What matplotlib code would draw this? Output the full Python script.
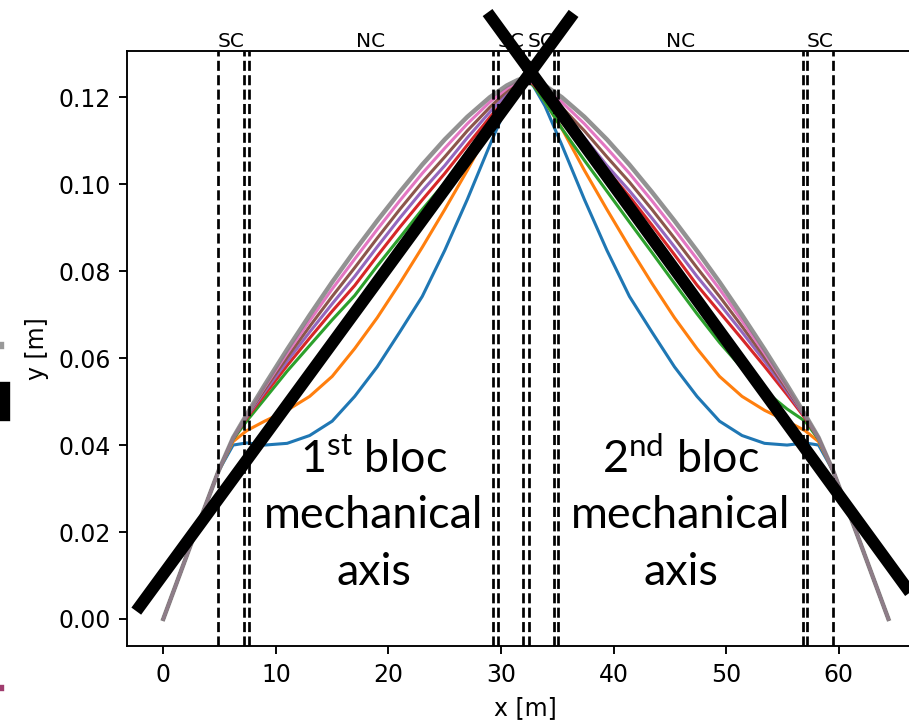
import numpy as np
import matplotlib.pyplot as plt
from matplotlib.patches import Rectangle

DPI = 170

plt.rcParams['mathtext.fontset'] = 'custom'
plt.rcParams['mathtext.rm'] = 'Lato'

# sample positions along the line [m]
x_pos = [0, 2.5, 4.9, 6.2, 7.4, 9, 11, 13, 15, 17, 19, 21, 23, 25, 27, 29, 30.5, 31.5, 32.2,
         32.9, 33.9, 35.4, 37.4, 39.4, 41.4, 43.4, 45.4, 47.4, 49.4, 51.4, 53.4, 55.4, 57.0, 58.2,
         59.5, 61.9, 64.4]

# vertical position for each iteration [m]
y_iter0 = [0, 0.0175, 0.034, 0.0400, 0.0405, 0.0400, 0.0404, 0.0422, 0.0455, 0.0512, 0.0580, 0.0660,
           0.0742, 0.0848, 0.0965, 0.1090, 0.1180, 0.1225, 0.1245,
           0.1225, 0.1180, 0.1090, 0.0965, 0.0848, 0.0742, 0.0660, 0.0580, 0.0512, 0.0455, 0.0422,
           0.0404, 0.0400, 0.0405, 0.0400, 0.034, 0.0175, 0]
y_iter1 = [0, 0.0175, 0.034, 0.0408, 0.0433, 0.0455, 0.0480, 0.0512, 0.0558, 0.0622, 0.0693, 0.0772,
           0.0855, 0.0942, 0.1032, 0.1128, 0.1190, 0.1228, 0.1245,
           0.1228, 0.1190, 0.1128, 0.1032, 0.0942, 0.0855, 0.0772, 0.0693, 0.0622, 0.0558, 0.0512,
           0.0480, 0.0455, 0.0433, 0.0408, 0.034, 0.0175, 0]
y_iter2 = [0, 0.0175, 0.034, 0.0413, 0.0455, 0.0506, 0.0570, 0.0629, 0.0688, 0.0744, 0.0812, 0.0877,
           0.0942, 0.1003, 0.1075, 0.1142, 0.1192, 0.1226, 0.1245,
           0.1226, 0.1190, 0.1128, 0.1055, 0.0984, 0.0913, 0.0843, 0.0772, 0.0702, 0.0636, 0.0577,
           0.0525, 0.0483, 0.0455, 0.0413, 0.034, 0.0175, 0]
y_iter3 = [0, 0.0175, 0.034, 0.0415, 0.0462, 0.0516, 0.0583, 0.0646, 0.0708, 0.0767, 0.0835, 0.0901,
           0.0964, 0.1025, 0.1090, 0.1154, 0.1200, 0.1229, 0.1245,
           0.1229, 0.1200, 0.1158, 0.1098, 0.1033, 0.0972, 0.0906, 0.0838, 0.0768, 0.0706, 0.0644,
           0.0581, 0.0516, 0.0462, 0.0415, 0.034, 0.0175, 0]
y_iter4 = [0, 0.0175, 0.034, 0.0415, 0.0465, 0.0523, 0.0593, 0.0660, 0.0725, 0.0788, 0.0856, 0.0922,
           0.0985, 0.1043, 0.1107, 0.1166, 0.1207, 0.1232, 0.1245,
           0.1232, 0.1207, 0.1166, 0.1107, 0.1043, 0.0985, 0.0922, 0.0856, 0.0788, 0.0725, 0.0660,
           0.0593, 0.0523, 0.0465, 0.0415, 0.034, 0.0175, 0]
y_iter5 = [0, 0.0175, 0.034, 0.0416, 0.0467, 0.0528, 0.0602, 0.0673, 0.0742, 0.0808, 0.0876, 0.0942,
           0.1005, 0.1063, 0.1123, 0.1177, 0.1214, 0.1235, 0.1245,
           0.1235, 0.1214, 0.1177, 0.1123, 0.1063, 0.1005, 0.0942, 0.0876, 0.0808, 0.0742, 0.0673,
           0.0602, 0.0528, 0.0467, 0.0416, 0.034, 0.0175, 0]
y_iter6 = [0, 0.0175, 0.034, 0.0416, 0.0468, 0.0533, 0.0611, 0.0686, 0.0759, 0.0828, 0.0896, 0.0962,
           0.1025, 0.1083, 0.1139, 0.1189, 0.1220, 0.1237, 0.1245,
           0.1237, 0.1220, 0.1189, 0.1139, 0.1083, 0.1025, 0.0962, 0.0896, 0.0828, 0.0759, 0.0686,
           0.0611, 0.0533, 0.0468, 0.0416, 0.034, 0.0175, 0]
y_iter7 = [0, 0.0175, 0.034, 0.0417, 0.0470, 0.0538, 0.0620, 0.0699, 0.0775, 0.0847, 0.0916, 0.0982,
           0.1045, 0.1103, 0.1155, 0.1200, 0.1227, 0.1240, 0.1245,
           0.1240, 0.1227, 0.1200, 0.1155, 0.1103, 0.1045, 0.0982, 0.0916, 0.0847, 0.0775, 0.0699,
           0.0620, 0.0538, 0.0470, 0.0417, 0.034, 0.0175, 0]

iterations = [y_iter0, y_iter1, y_iter2, y_iter3, y_iter4, y_iter5, y_iter6, y_iter7]

# magnet section boundaries and their names
section_edges = [4.9, 7.2, 7.6, 29.3, 29.7, 31.95, 32.45, 34.7, 35.1, 56.8, 57.2, 59.5]
section_names = ['SC', 'NC', 'SC', 'SC', 'NC', 'SC']
section_centers = [6.05, 18.45, 30.85, 33.55, 45.95, 58.35]

# mechanical axes of the two blocs (start, end)
axis1_x, axis1_y = [-2.4, 36.44], [0.0018, 0.1393]
axis2_x, axis2_y = [28.8, 68.2], [0.1395, -0.0006]

bloc_labels = [('1$^{\\mathrm{st}}$ bloc', 18.67), ('2$^{\\mathrm{nd}}$ bloc', 45.96)]


fig = plt.figure(figsize=(910 / DPI, 721 / DPI), dpi=DPI)
ax = fig.add_axes([0.1396, 0.1040, 0.8765, 0.8257])

for i, y in enumerate(iterations):
    if i == 7:
        ax.plot(x_pos, y, lw=1.9, alpha=0.85)
    else:
        ax.plot(x_pos, y, lw=1.3)

for xe in section_edges:
    ax.axvline(xe, color='k', ls='--', lw=1.15)

for name, xc in zip(section_names, section_centers):
    ax.text(xc, 1.0, name, transform=ax.get_xaxis_transform(),
            ha='center', va='bottom', fontsize=8.5)

ax.set_xlabel('x [m]')
ax.set_ylabel('y [m]')
ax.autoscale(False)

# overlay: the two mechanical axes
for xs, ys in [(axis1_x, axis1_y), (axis2_x, axis2_y)]:
    ax.plot(xs, ys, color='k', lw=5.1, solid_capstyle='butt', clip_on=False, zorder=5)

for first, xc in bloc_labels:
    ax.text(xc, 0.0336, first, ha='center', va='baseline', fontsize=19, family='Lato', zorder=6)
    ax.text(xc, 0.0209, 'mechanical', ha='center', va='baseline', fontsize=19, family='Lato', zorder=6)
    ax.text(xc, 0.0078, 'axis', ha='center', va='baseline', fontsize=19, family='Lato', zorder=6)

# bits of the surrounding slide at the left edge
fig.add_artist(Rectangle((0, 0.4175), 0.0099, 0.0513, transform=fig.transFigure, color='k'))
fig.add_artist(Rectangle((0, 0.517), 0.0035, 0.007, transform=fig.transFigure, color='#999999'))
fig.add_artist(Rectangle((0, 0.043), 0.0035, 0.006, transform=fig.transFigure, color='#a03c6e'))

fig.savefig('out.png', dpi=DPI)
